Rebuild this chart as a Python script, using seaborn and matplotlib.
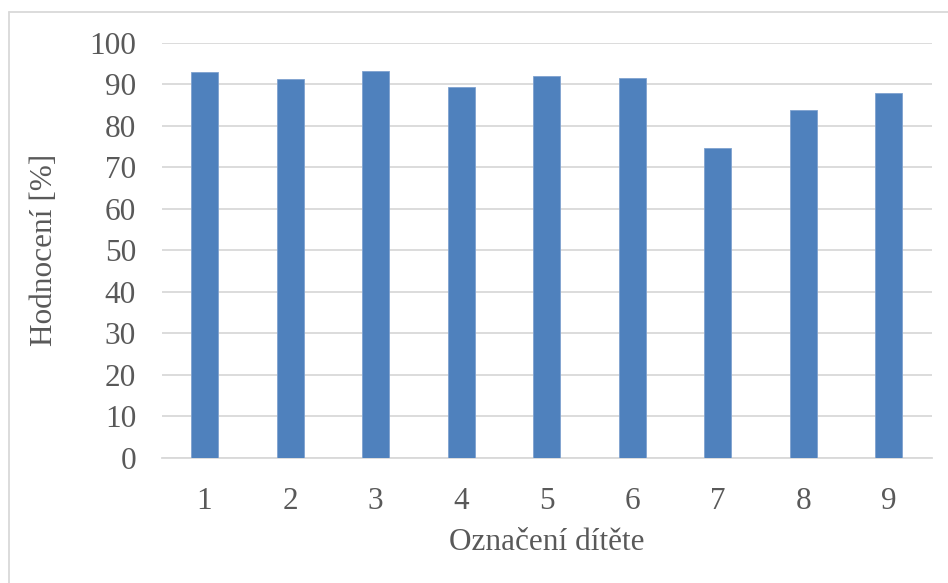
import matplotlib
matplotlib.use("Agg")
import matplotlib.pyplot as plt
import seaborn as sns
import pandas as pd
from matplotlib.lines import Line2D

categories = ["1", "2", "3", "4", "5", "6", "7", "8", "9"]
values = [92.9, 91.3, 93.3, 89.3, 91.9, 91.5, 74.6, 83.9, 87.8]
y_ticks = [0, 10, 20, 30, 40, 50, 60, 70, 80, 90, 100]

sns.set_theme(style="white")
plt.rcParams['font.family'] = ['Liberation Serif', 'DejaVu Serif']

df = pd.DataFrame({"cat": categories, "val": values})

fig = plt.figure(figsize=(9.48, 5.83), dpi=100)
ax = fig.add_axes([161.7/948, 1 - 457.7/583, 770/948, 415/583])

sns.barplot(data=df, x="cat", y="val", color="#4F81BD", width=0.315,
            saturation=1, edgecolor="#7FA2CF", linewidth=0.6, ax=ax, zorder=3)

ax.set_ylim(0, 100)
ax.set_xlim(-0.5, len(categories) - 0.5)
ax.set_yticks(y_ticks)
ax.yaxis.grid(True, color="#D9D9D9", linewidth=1.3, zorder=0)
ax.set_axisbelow(True)
for s in ["top", "right", "left"]:
    ax.spines[s].set_visible(False)
ax.spines["bottom"].set_color("#D9D9D9")
ax.spines["bottom"].set_linewidth(1.3)

txt = "#595959"
ax.tick_params(axis="both", length=0, labelsize=22.5, labelcolor=txt)
ax.tick_params(axis="y", pad=18.5)
ax.tick_params(axis="x", pad=21)
ax.set_xlabel("Označení dítěte", fontsize=22.5, color=txt, labelpad=8.5)
ax.set_ylabel("Hodnocení [%]", fontsize=22.5, color=txt, labelpad=22)

# outer frame (only top and left edges visible in the reference crop)
ytop = 1 - 12/583
xl = 8.5/948
fig.add_artist(Line2D([xl, 1], [ytop, ytop], transform=fig.transFigure,
                      color="#D9D9D9", linewidth=1.3))
fig.add_artist(Line2D([xl, xl], [0, ytop], transform=fig.transFigure,
                      color="#D9D9D9", linewidth=1.3))

fig.savefig("out.png", dpi=100)
